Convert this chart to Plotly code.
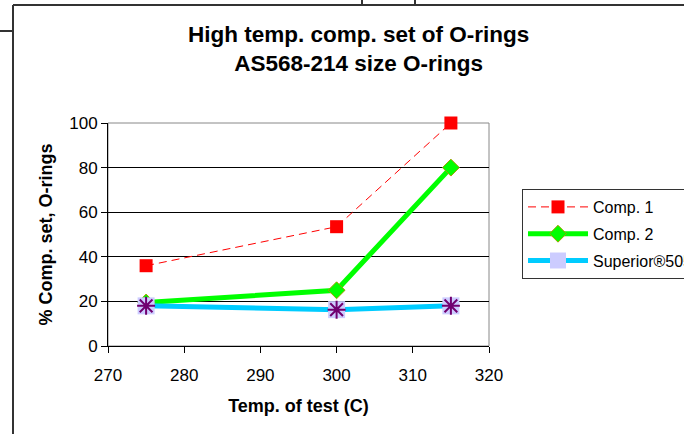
import plotly.graph_objects as go

temps = [275, 300, 315]
comp1 = [36, 53.5, 100]
comp2 = [19.5, 25, 80]
superior = [18, 16.3, 18]
names = ["Comp. 1", "Comp. 2", "Superior®505"]
x_ticks = [270, 280, 290, 300, 310, 320]
y_ticks = [0, 20, 40, 60, 80, 100]

W, H = 684, 434
L, R, T, B = 108, 489, 123, 346

def px(x):
    return (x - L) / (R - L)

def py(y):
    return (B - y) / (B - T)

fig = go.Figure()
fig.add_trace(go.Scatter(
    x=temps, y=comp1, name=names[0], mode="lines+markers", legendgroup="a",
    line=dict(color="#FF0000", width=1, dash="8px,5px"),
    marker=dict(symbol="square", size=13, color="#FF0000"),
    cliponaxis=False))
fig.add_trace(go.Scatter(
    x=temps, y=comp2, name=names[1], mode="lines+markers", legendgroup="b",
    line=dict(color="#00FF00", width=5),
    marker=dict(symbol="diamond", size=13, color="#00FF00",
                line=dict(color="#A0A000", width=1)),
    cliponaxis=False))
fig.add_trace(go.Scatter(
    x=temps, y=superior, name=names[2], mode="lines+markers", legendgroup="c",
    line=dict(color="#00CCFF", width=5),
    marker=dict(symbol="square", size=17, color="#CCCCFF"),
    cliponaxis=False))
fig.add_trace(go.Scatter(
    x=temps, y=superior, name=names[2], mode="markers", legendgroup="c",
    showlegend=False,
    marker=dict(symbol="asterisk-open", size=15, color="#700070",
                line=dict(color="#700070", width=2)),
    cliponaxis=False))

font = "Liberation Sans, Arial, sans-serif"

fig.update_layout(
    width=W, height=H,
    margin=dict(l=L, r=W - R, t=T, b=H - B, autoexpand=False),
    paper_bgcolor="white", plot_bgcolor="white",
    font=dict(family=font, color="black", size=16),
    showlegend=True,
    legend=dict(x=px(522), y=py(189), xanchor="left", yanchor="top",
                bordercolor="#333333", borderwidth=1, bgcolor="white",
                font=dict(size=16, family=font), tracegroupgap=3,
                itemwidth=60, traceorder="grouped"),
    xaxis=dict(range=[270, 320], tickvals=x_ticks, showgrid=False,
               showline=True, linecolor="black", linewidth=1,
               ticks="outside", ticklen=6, tickcolor="black",
               tickfont=dict(size=17), zeroline=False,
               ticklabelstandoff=8,
               title=dict(text="<b>Temp. of test (C)</b>",
                          font=dict(size=18), standoff=14)),
    yaxis=dict(range=[0, 100], tickvals=y_ticks, showgrid=True,
               gridcolor="black", gridwidth=1,
               showline=True, linecolor="black", linewidth=1,
               ticks="outside", ticklen=6, tickcolor="black",
               tickfont=dict(size=17), zeroline=False,
               title=dict(text="<b>% Comp. set, O-rings</b>",
                          font=dict(size=18), standoff=11)),
)

# gray plot-area frame (top/right)
fig.add_shape(type="rect", xref="paper", yref="paper", x0=0, x1=1, y0=0, y1=1,
              line=dict(color="#888888", width=1), layer="below")

# outer chart / cell border lines
frame = dict(color="#333333", width=2)
for (x0, y0, x1, y1) in [(13, 5, 13, 440), (13, 5, 700, 5), (0, 31, 13, 31),
                         (362, -5, 362, 5), (415, -5, 415, 5)]:
    fig.add_shape(type="line", xref="paper", yref="paper",
                  x0=px(x0), x1=px(x1), y0=py(y0), y1=py(y1), line=frame)

fig.add_annotation(
    xref="paper", yref="paper", x=px(358), y=py(49),
    text="<b>High temp. comp. set of O-rings<br>AS568-214 size O-rings</b>",
    showarrow=False, font=dict(size=22.5, family=font),
    xanchor="center", yanchor="middle", align="center")

fig.write_html("out.html", config={"displayModeBar": False},
               post_script="document.body.style.margin='0';document.body.style.overflow='hidden';")
